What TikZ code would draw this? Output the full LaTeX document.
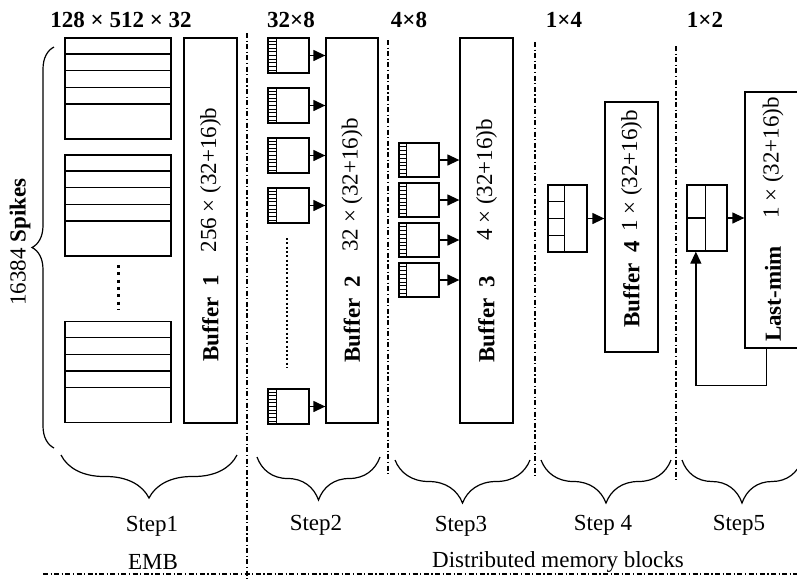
\documentclass[tikz,border=0pt]{standalone}
\usepackage{fontspec}
\setmainfont{Liberation Serif}
\usetikzlibrary{arrows.meta,positioning,calc,decorations.pathreplacing}

\begin{document}
\begin{tikzpicture}[x=1pt, y=-1pt, >={Triangle[length=12pt,width=11pt]}, line width=1.3pt, font=\fontsize{23}{27}\selectfont]
        % Style definitions
        \tikzset{
            buffer/.style={draw, rectangle, minimum width=53pt, inner sep=0pt},
            emb/.style={draw, rectangle, minimum width=106pt, minimum height=101pt, inner sep=0pt},
            cell/.style={draw, rectangle, minimum width=41pt, minimum height=35pt, inner sep=0pt},
            stripe/.style={line width=0.8pt},
            sep/.style={line width=1.1pt, dash pattern=on 5pt off 2.5pt on 1.2pt off 2.5pt},
            bracedown/.style={decorate, decoration={brace, amplitude=43pt}, line width=1.2pt},
            head/.style={font=\fontsize{23}{27}\selectfont\bfseries},
            vlabel/.style={rotate=90, inner sep=0pt},
            vname/.style={rotate=90, inner sep=0pt, font=\fontsize{23}{27}\selectfont\bfseries}
        }
        \useasboundingbox (0,0) rectangle (797,579);
        \clip (0,0) rectangle (797,579);

        % Headers
        \node [head] (h1) at (121,20) {128 × 512 × 32};
        \node [head] (h2) at (291,20) {32×8};
        \node [head] (h3) at (409,20) {4×8};
        \node [head] (h4) at (564,20) {1×4};
        \node [head] (h5) at (705,20) {1×2};

        % Step 1: embedding blocks and Buffer 1
        \node [emb] (emb1) at (118,88.5) {};
        \node [emb] (emb2) at (118,205.5) {};
        \node [emb] (emb3) at (118,372) {};
        \foreach \b in {emb1,emb2,emb3}
            \foreach \k in {1,...,4}
                \draw ($(\b.north west)!\k*0.163!(\b.south west)$) -- ($(\b.north east)!\k*0.163!(\b.south east)$);
        \draw [line width=3pt, dash pattern=on 3pt off 4.3pt] (118,265) -- (118,309);

        \node [buffer, minimum height=385pt] (buf1) at (210.5,230.5) {};
        \node [vlabel] (buf1size) at (210.5,180) {256 × (32+16)b};
        \node [vname] (buf1name) at (210.5,318) {Buffer\ \ 1};

        % Step 2: spike cells and Buffer 2
        \node [buffer, minimum width=52pt, minimum height=385pt] (buf2) at (352,230.5) {};
        \node [vlabel] (buf2size) at (352,185) {32 × (32+16)b};
        \node [vname] (buf2name) at (352,319) {Buffer\ \ 2};
        \foreach \n/\yy in {a/55.5, b/105.5, c/155.5, d/205.5, e/406.5} {
            \node [cell] (s2\n) at (288.5,\yy) {};
            \draw [stripe] ([xshift=9pt]s2\n.north west) -- ([xshift=9pt]s2\n.south west);
            \foreach \k in {1,...,9}
                \draw [stripe] ($(s2\n.north west)!\k/10!(s2\n.south west)$) -- ++(9,0);
            \draw [->] (s2\n.east) -- (s2\n.east -| buf2.west);
        }
        \draw [line width=2.5pt, dash pattern=on 2pt off 2.3pt] (287,238) -- (287,368);

        % Step 3: spike cells and Buffer 3
        \node [buffer, minimum height=385pt] (buf3) at (486.5,230.5) {};
        \node [vlabel] (buf3size) at (486.5,180) {4 × (32+16)b};
        \node [vname] (buf3name) at (486.5,319) {Buffer\ \ 3};
        \foreach \n/\yy in {a/160, b/200, c/240, d/280} {
            \node [cell, minimum width=40pt, minimum height=34pt] (s3\n) at (419,\yy) {};
            \draw [stripe] ([xshift=8pt]s3\n.north west) -- ([xshift=8pt]s3\n.south west);
            \foreach \k in {1,...,8}
                \draw [stripe] ($(s3\n.north west)!\k/9!(s3\n.south west)$) -- ++(8,0);
            \draw [->] (s3\n.east) -- (s3\n.east -| buf3.west);
        }

        % Step 4
        \node [buffer, minimum height=250pt] (buf4) at (631.5,227) {};
        \node [vlabel] (buf4size) at (631.5,171) {1 × (32+16)b};
        \node [vname] (buf4name) at (631.5,284) {Buffer\ \ 4};
        \node [draw, minimum width=39pt, minimum height=67pt, inner sep=0pt] (s4) at (567.5,218.5) {};
        \draw ([xshift=17pt]s4.north west) -- ([xshift=17pt]s4.south west);
        \foreach \k in {1,2,3}
            \draw ($(s4.north west)!\k/4!(s4.south west)$) -- ++(17,0);
        \draw [->] (s4.east) -- (s4.east -| buf4.west);

        % Step 5
        \node [buffer, minimum width=57pt, minimum height=256pt] (lastmim) at (773.5,220) {};
        \node [vlabel] (lastsize) at (773,158) {1 × (32+16)b};
        \node [vname] (lastname) at (773,294) {Last-mim};
        \node [draw, minimum width=40pt, minimum height=66pt, inner sep=0pt] (s5) at (707,218) {};
        \draw ([xshift=19pt]s5.north west) -- ([xshift=19pt]s5.south west);
        \draw (s5.west) -- ++(19,0);
        \draw [->] (s5.east) -- (s5.east -| lastmim.west);
        \draw [->] ([xshift=22pt]lastmim.south west) -- ++(0,37) -| ($(s5.south west)!0.23!(s5.south east)$);

        % Spikes brace
        \draw [decorate, decoration={brace, amplitude=22pt}, line width=1.2pt] (54,448) -- (54,47);
        \node [rotate=90] (spikes) at (20,242) {16384 \textbf{Spikes}};

        % Step braces
        \draw [bracedown] (237,455) -- (61,455);
        \draw [bracedown] (380,457) -- (257,457);
        \draw [bracedown] (530,460) -- (395,460);
        \draw [bracedown] (671,460) -- (541,460);
        \draw [bracedown] (802,460) -- (682,460);
        \node (step1) at (152,526) {Step1};
        \node (step2) at (316,525) {Step2};
        \node (step3) at (461,526) {Step3};
        \node (step4) at (603,525) {Step 4};
        \node (step5) at (739,525) {Step5};
        \node (embtxt) at (153,562) {EMB};
        \node (dmb) at (558,562) {Distributed memory blocks};

        % Separators
        \draw [sep] (247,33) -- (247,579);
        \draw [sep] (388,40) -- (388,475);
        \draw [sep] (535,42) -- (535,477);
        \draw [sep] (676,46) -- (676,480);
        \draw [sep] (43,574) -- (797,574);
    \end{tikzpicture}
\end{document}
